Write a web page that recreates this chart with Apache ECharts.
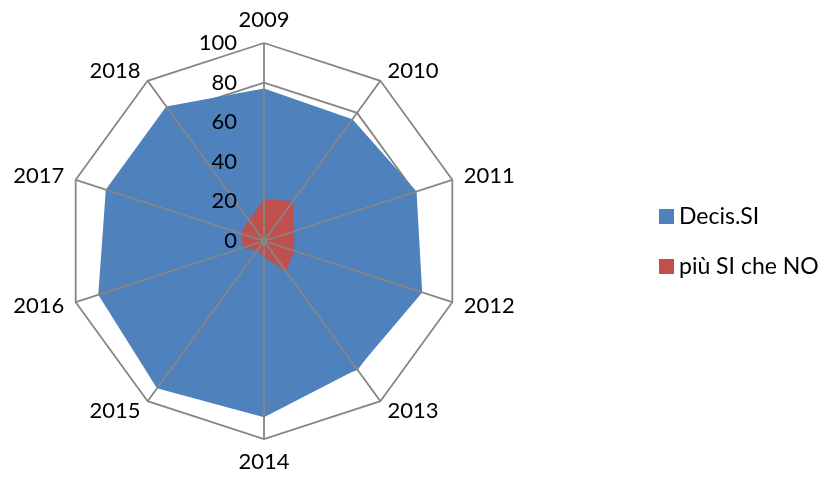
<!DOCTYPE html>
<html><head><meta charset="utf-8">
<script src="https://cdn.jsdelivr.net/npm/echarts@6/dist/echarts.min.js"></script>
<style>html,body{margin:0;padding:0;background:#fff}#c{width:825px;height:481px}</style>
</head><body><div id="c"></div>
<script>
const years = ['2009','2010','2011','2012','2013','2014','2015','2016','2017','2018'];
const decisSI = [77, 76, 81, 84, 80, 89, 92, 88, 84, 84];
const piuSIcheNO = [21, 25, 16, 16, 19, 8, 6, 11, 12.5, 13];
const seriesNames = ['Decis.SI', 'più SI che NO'];
const tickMax = 100, tickStep = 20;

// ECharts radar runs counter-clockwise; reorder so the years go clockwise from the top
const cw = arr => [arr[0]].concat(arr.slice(1).reverse());

const FONT = 'Lato';
const GRID = '#868686';
const chart = echarts.init(document.getElementById('c'));
chart.setOption({
  animation: false,
  textStyle: { fontFamily: FONT },
  legend: {
    orient: 'vertical', left: 654, top: 200,
    itemWidth: 15, itemHeight: 15, itemGap: 27,
    icon: 'rect',
    textStyle: { fontSize: 23, color: '#000', fontFamily: FONT },
    data: seriesNames
  },
  radar: {
    center: [264, 241], radius: 198, shape: 'polygon', splitNumber: 5, startAngle: 90,
    indicator: cw(years).map(y => ({ name: y, min: 0, max: tickMax })),
    axisName: { color: '#000', fontSize: 22, fontFamily: FONT },
    nameGap: 12,
    splitLine: { lineStyle: { color: GRID, width: 1.8 } },
    axisLine: { show: false },
    splitArea: { show: false },
    axisLabel: { show: false }
  },
  polar: { center: [264, 241], radius: 198 },
  angleAxis: {
    type: 'value', startAngle: 90, min: 0, max: 360, interval: 36, z: 10,
    axisLine: { show: false }, axisTick: { show: false }, axisLabel: { show: false },
    splitLine: { show: true, lineStyle: { color: GRID, width: 1.8 } }
  },
  radiusAxis: {
    min: 0, max: tickMax, interval: tickStep, z: 11,
    axisLine: { show: false }, axisTick: { show: false }, splitLine: { show: false },
    axisLabel: { show: true, fontSize: 22, color: '#000', fontFamily: FONT, margin: 27 }
  },
  series: [{
    type: 'radar', z: 2,
    symbol: 'none',
    data: [
      { name: seriesNames[0], value: cw(decisSI),
        itemStyle: { color: '#4F81BD' }, lineStyle: { width: 0, color: '#4F81BD' }, areaStyle: { color: '#4F81BD', opacity: 1 } },
      { name: seriesNames[1], value: cw(piuSIcheNO),
        itemStyle: { color: '#C0504D' }, lineStyle: { width: 0, color: '#C0504D' }, areaStyle: { color: '#C0504D', opacity: 1 } }
    ]
  }]
});
</script></body></html>
